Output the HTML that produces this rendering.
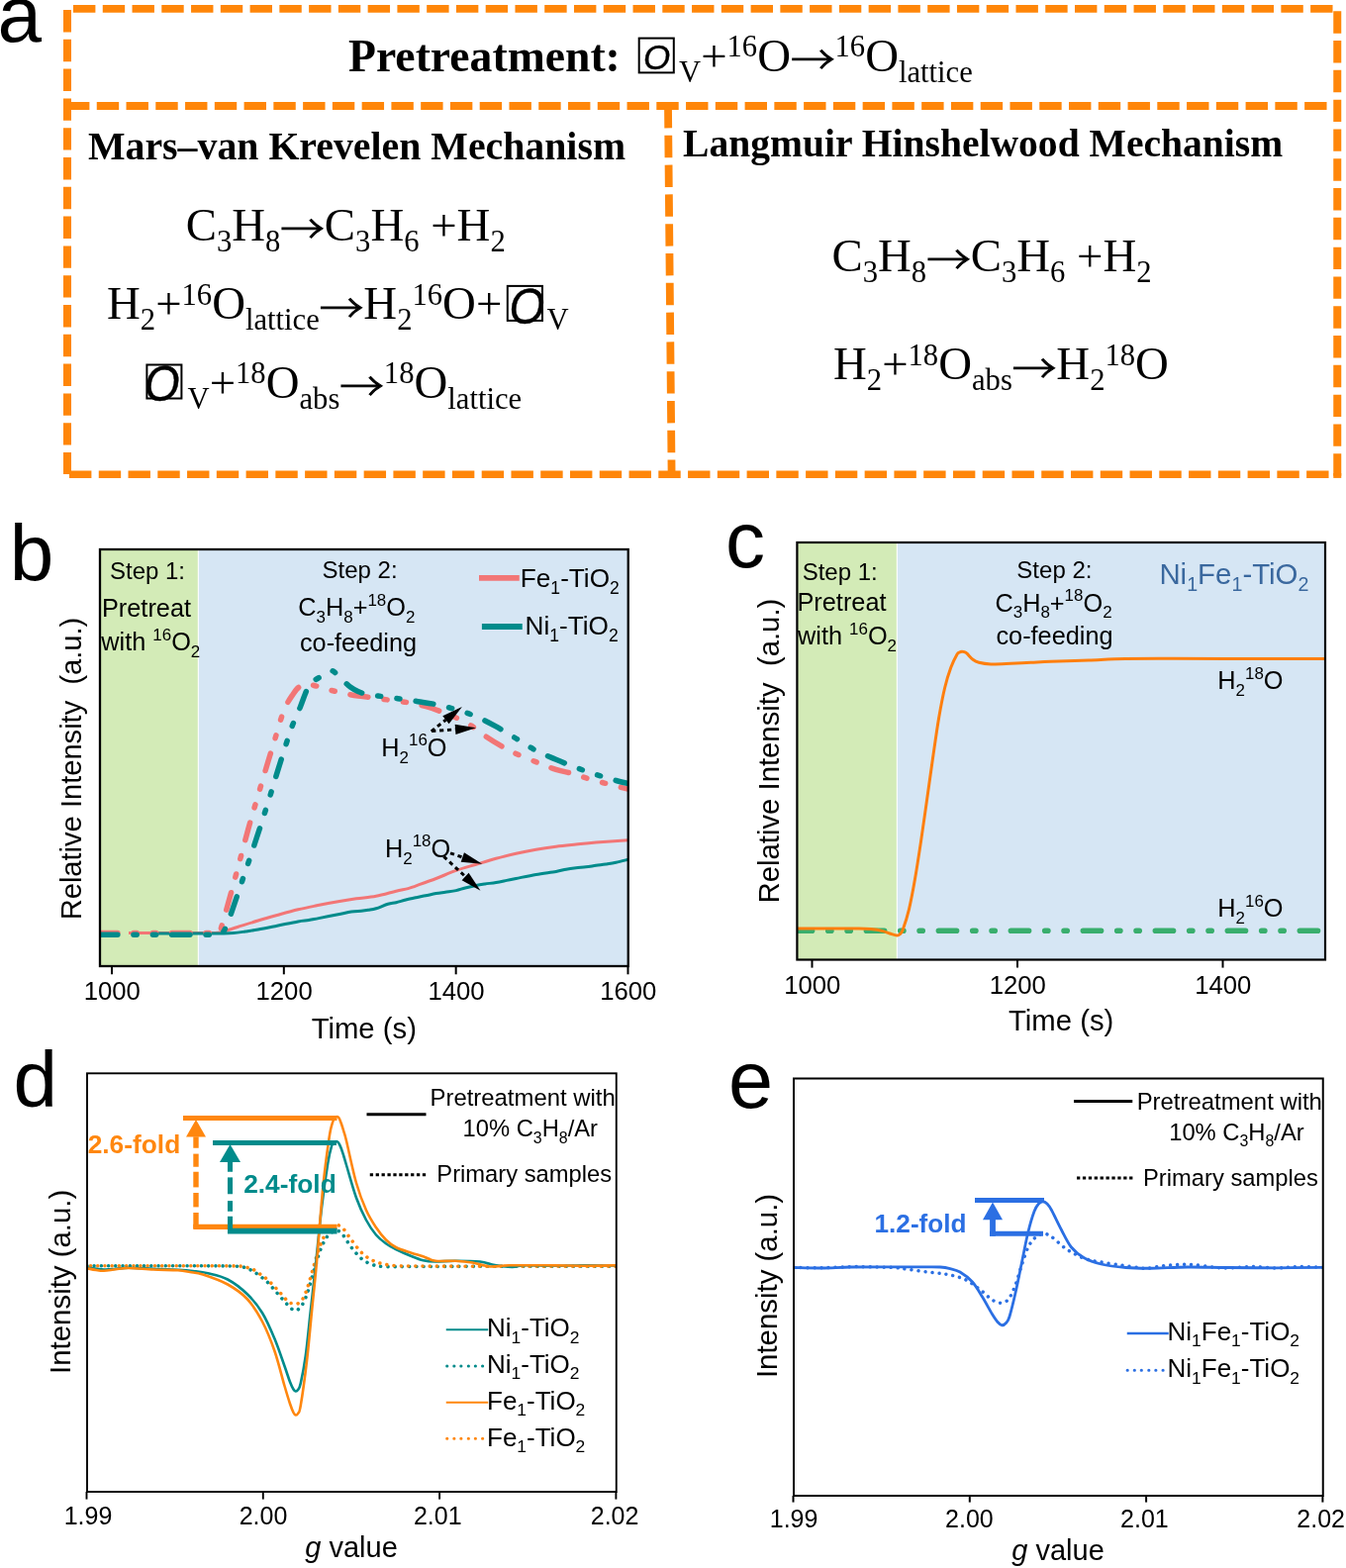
<!DOCTYPE html>
<html lang="en">
<head>
<meta charset="utf-8">
<title>Figure</title>
<style>
html,body{margin:0;padding:0;background:#fff;}
body{width:1360px;height:1584px;overflow:hidden;}
svg{display:block;}
</style>
</head>
<body>
<svg width="1360" height="1584" viewBox="0 0 1360 1584">
<rect x="0" y="0" width="1360" height="1584" fill="#ffffff"/>
<g id="panel-a">
<text x="-2.50" y="42.00" font-family='"Liberation Sans", Arial, Helvetica, sans-serif' font-size="80" fill="#000" text-anchor="start" xml:space="preserve" style="white-space:pre"><tspan>a</tspan></text>
<line x1="74" y1="8.9" x2="1347" y2="8.9" stroke="#FF8609" stroke-width="7.7" stroke-linecap="butt" stroke-dasharray="22.4 7.365"/>
<line x1="68" y1="10" x2="68" y2="479" stroke="#FF8609" stroke-width="8" stroke-linecap="butt" stroke-dasharray="22.4 7.4"/>
<line x1="1351.25" y1="11.25" x2="1351.25" y2="483" stroke="#FF8609" stroke-width="8" stroke-linecap="butt" stroke-dasharray="22.4 7.4"/>
<line x1="1351.25" y1="478" x2="1351.25" y2="482.9" stroke="#FF8609" stroke-width="8" stroke-linecap="butt"/>
<line x1="68" y1="106.9" x2="1347" y2="106.9" stroke="#FF8609" stroke-width="8" stroke-linecap="butt" stroke-dasharray="22.4 7.365"/>
<line x1="70" y1="479.2" x2="1347.5" y2="479.2" stroke="#FF8609" stroke-width="7.4" stroke-linecap="butt" stroke-dasharray="22.4 7.365"/>
<line x1="675" y1="107" x2="678.6" y2="479" stroke="#FF8609" stroke-width="7.8" stroke-linecap="butt" stroke-dasharray="22.4 7.4"/>
<text x="352.00" y="72.00" font-family='"Liberation Serif", "Times New Roman", Times, serif' font-size="45.7" fill="#000" text-anchor="start" font-weight="bold" xml:space="preserve" style="white-space:pre"><tspan>Pretreatment:</tspan></text>
<rect x="645.70" y="38.60" width="35.10" height="34.80" fill="none" stroke="#000" stroke-width="2"/>
<text transform="translate(650.00,70.00) scale(1,1)" font-family='"Liberation Sans", Arial, Helvetica, sans-serif' font-style="italic" font-size="35" fill="#000" stroke="#000" stroke-width="0.35">O</text>
<text x="686.00" y="72.00" font-family='"Liberation Serif", "Times New Roman", Times, serif' font-size="46.8" fill="#000" text-anchor="start" xml:space="preserve" style="white-space:pre"><tspan dy="11.00" font-size="30.65">V</tspan><tspan dy="-11.00">+</tspan><tspan dy="-14.60" font-size="30.65">16</tspan><tspan dy="14.60">O</tspan><tspan dy="2.30" font-family='"Noto Serif CJK SC", "Noto Sans CJK SC", serif' font-size="38" textLength="44.5" lengthAdjust="spacingAndGlyphs" stroke="#000" stroke-width="1">→</tspan><tspan dy="-16.90" font-size="30.65">16</tspan><tspan dy="14.60">O</tspan><tspan dy="11.00" font-size="30.65">lattice</tspan></text>
<text x="89.00" y="161.20" font-family='"Liberation Serif", "Times New Roman", Times, serif' font-size="39.8" fill="#000" text-anchor="start" font-weight="bold" xml:space="preserve" style="white-space:pre"><tspan>Mars–van Krevelen Mechanism</tspan></text>
<text x="187.70" y="242.50" font-family='"Liberation Serif", "Times New Roman", Times, serif' font-size="46.8" fill="#000" text-anchor="start" xml:space="preserve" style="white-space:pre"><tspan>C</tspan><tspan dy="11.00" font-size="30.65">3</tspan><tspan dy="-11.00">H</tspan><tspan dy="11.00" font-size="30.65">8</tspan><tspan dy="-8.70" font-family='"Noto Serif CJK SC", "Noto Sans CJK SC", serif' font-size="38" textLength="44.5" lengthAdjust="spacingAndGlyphs" stroke="#000" stroke-width="1">→</tspan><tspan dy="-2.30">C</tspan><tspan dy="11.00" font-size="30.65">3</tspan><tspan dy="-11.00">H</tspan><tspan dy="11.00" font-size="30.65">6</tspan><tspan dy="-11.00"> +H</tspan><tspan dy="11.00" font-size="30.65">2</tspan></text>
<text x="108.00" y="322.40" font-family='"Liberation Serif", "Times New Roman", Times, serif' font-size="46.8" fill="#000" text-anchor="start" xml:space="preserve" style="white-space:pre"><tspan>H</tspan><tspan dy="11.00" font-size="30.65">2</tspan><tspan dy="-11.00">+</tspan><tspan dy="-14.60" font-size="30.65">16</tspan><tspan dy="14.60">O</tspan><tspan dy="11.00" font-size="30.65">lattice</tspan><tspan dy="-8.70" font-family='"Noto Serif CJK SC", "Noto Sans CJK SC", serif' font-size="38" textLength="44.5" lengthAdjust="spacingAndGlyphs" stroke="#000" stroke-width="1">→</tspan><tspan dy="-2.30">H</tspan><tspan dy="11.00" font-size="30.65">2</tspan><tspan dy="-25.60" font-size="30.65">16</tspan><tspan dy="14.60">O+</tspan></text>
<rect x="512.80" y="288.90" width="35.20" height="35.00" fill="none" stroke="#000" stroke-width="2"/>
<text transform="translate(514.60,327.20) scale(0.98,1.07)" font-family='"Liberation Sans", Arial, Helvetica, sans-serif' font-style="italic" font-size="47" fill="#000" stroke="#000" stroke-width="0.35">O</text>
<text x="552.50" y="322.40" font-family='"Liberation Serif", "Times New Roman", Times, serif' font-size="46.8" fill="#000" text-anchor="start" xml:space="preserve" style="white-space:pre"><tspan dy="11.00" font-size="30.65">V</tspan></text>
<rect x="148.40" y="368.50" width="35.00" height="34.00" fill="none" stroke="#000" stroke-width="2"/>
<text transform="translate(145.75,404.50) scale(0.98,1.07)" font-family='"Liberation Sans", Arial, Helvetica, sans-serif' font-style="italic" font-size="47" fill="#000" stroke="#000" stroke-width="0.35">O</text>
<text x="189.50" y="401.80" font-family='"Liberation Serif", "Times New Roman", Times, serif' font-size="46.8" fill="#000" text-anchor="start" xml:space="preserve" style="white-space:pre"><tspan dy="11.00" font-size="30.65">V</tspan><tspan dy="-11.00">+</tspan><tspan dy="-14.60" font-size="30.65">18</tspan><tspan dy="14.60">O</tspan><tspan dy="11.00" font-size="30.65">abs</tspan><tspan dy="-8.70" font-family='"Noto Serif CJK SC", "Noto Sans CJK SC", serif' font-size="38" textLength="44.5" lengthAdjust="spacingAndGlyphs" stroke="#000" stroke-width="1">→</tspan><tspan dy="-16.90" font-size="30.65">18</tspan><tspan dy="14.60">O</tspan><tspan dy="11.00" font-size="30.65">lattice</tspan></text>
<text x="690.00" y="158.00" font-family='"Liberation Serif", "Times New Roman", Times, serif' font-size="39.6" fill="#000" text-anchor="start" font-weight="bold" xml:space="preserve" style="white-space:pre"><tspan>Langmuir Hinshelwood Mechanism</tspan></text>
<text x="840.50" y="273.70" font-family='"Liberation Serif", "Times New Roman", Times, serif' font-size="46.8" fill="#000" text-anchor="start" xml:space="preserve" style="white-space:pre"><tspan>C</tspan><tspan dy="11.00" font-size="30.65">3</tspan><tspan dy="-11.00">H</tspan><tspan dy="11.00" font-size="30.65">8</tspan><tspan dy="-8.70" font-family='"Noto Serif CJK SC", "Noto Sans CJK SC", serif' font-size="38" textLength="44.5" lengthAdjust="spacingAndGlyphs" stroke="#000" stroke-width="1">→</tspan><tspan dy="-2.30">C</tspan><tspan dy="11.00" font-size="30.65">3</tspan><tspan dy="-11.00">H</tspan><tspan dy="11.00" font-size="30.65">6</tspan><tspan dy="-11.00"> +H</tspan><tspan dy="11.00" font-size="30.65">2</tspan></text>
<text x="842.00" y="383.40" font-family='"Liberation Serif", "Times New Roman", Times, serif' font-size="46.8" fill="#000" text-anchor="start" xml:space="preserve" style="white-space:pre"><tspan>H</tspan><tspan dy="11.00" font-size="30.65">2</tspan><tspan dy="-11.00">+</tspan><tspan dy="-14.60" font-size="30.65">18</tspan><tspan dy="14.60">O</tspan><tspan dy="11.00" font-size="30.65">abs</tspan><tspan dy="-8.70" font-family='"Noto Serif CJK SC", "Noto Sans CJK SC", serif' font-size="38" textLength="44.5" lengthAdjust="spacingAndGlyphs" stroke="#000" stroke-width="1">→</tspan><tspan dy="-2.30">H</tspan><tspan dy="11.00" font-size="30.65">2</tspan><tspan dy="-25.60" font-size="30.65">18</tspan><tspan dy="14.60">O</tspan></text>
</g>
<g id="panel-b">
<text x="9.80" y="586.20" font-family='"Liberation Sans", Arial, Helvetica, sans-serif' font-size="80" fill="#000" text-anchor="start" xml:space="preserve" style="white-space:pre"><tspan>b</tspan></text>
<rect x="101" y="555" width="99" height="421" fill="#D3EBB7"/>
<rect x="200.6" y="555" width="434.15" height="421" fill="#D6E6F4"/>
<rect x="199.8" y="555" width="0.9" height="421" fill="#ffffff"/>
<clipPath id="clipb"><rect x="101" y="555" width="533.75" height="421"/></clipPath>
<g clip-path="url(#clipb)">
<path d="M130.00,942.50 C138.33,942.50 165.83,942.50 180.00,942.50 C194.17,942.50 207.67,942.67 215.00,942.50 C222.33,942.33 219.83,942.50 224.00,941.50 C228.17,940.50 233.87,938.42 240.00,936.50 C246.13,934.58 254.13,932.00 260.80,930.00 C267.47,928.00 273.27,926.37 280.00,924.50 C286.73,922.63 294.53,920.42 301.20,918.80 C307.87,917.18 313.27,916.15 320.00,914.80 C326.73,913.45 334.93,911.87 341.60,910.70 C348.27,909.53 353.60,908.70 360.00,907.80 C366.40,906.90 373.30,906.57 380.00,905.30 C386.70,904.03 394.82,901.48 400.20,900.20 C405.58,898.92 408.93,898.50 412.30,897.60 C415.67,896.70 415.68,896.48 420.40,894.80 C425.12,893.12 433.87,890.07 440.60,887.50 C447.33,884.93 454.07,881.77 460.80,879.40 C467.53,877.03 474.27,875.32 481.00,873.30 C487.73,871.28 494.47,869.15 501.20,867.30 C507.93,865.45 514.67,863.72 521.40,862.20 C528.13,860.68 534.87,859.37 541.60,858.20 C548.33,857.03 555.07,856.07 561.80,855.20 C568.53,854.33 575.27,853.70 582.00,853.00 C588.73,852.30 593.41,851.72 602.20,851.00 C610.99,850.28 629.33,849.08 634.75,848.70" fill="none" stroke="#F27676" stroke-width="3" stroke-linecap="butt" stroke-linejoin="round"/>
<path d="M155.00,943.00 C162.50,943.00 188.33,943.00 200.00,943.00 C211.67,943.00 219.00,943.07 225.00,943.00 C231.00,942.93 232.17,942.93 236.00,942.60 C239.83,942.27 243.87,941.60 248.00,941.00 C252.13,940.40 255.47,939.97 260.80,939.00 C266.13,938.03 273.27,936.55 280.00,935.20 C286.73,933.85 295.87,931.83 301.20,930.90 C306.53,929.97 308.53,930.15 312.00,929.60 C315.47,929.05 317.07,928.57 322.00,927.60 C326.93,926.63 336.10,924.90 341.60,923.80 C347.10,922.70 351.10,921.60 355.00,921.00 C358.90,920.40 362.17,920.48 365.00,920.20 C367.83,919.92 369.50,919.70 372.00,919.30 C374.50,918.90 376.67,918.82 380.00,917.80 C383.33,916.78 388.63,914.22 392.00,913.20 C395.37,912.18 397.20,912.40 400.20,911.70 C403.20,911.00 406.63,909.83 410.00,909.00 C413.37,908.17 417.07,907.40 420.40,906.70 C423.73,906.00 426.63,905.48 430.00,904.80 C433.37,904.12 437.27,903.20 440.60,902.60 C443.93,902.00 446.63,901.70 450.00,901.20 C453.37,900.70 457.47,900.30 460.80,899.60 C464.13,898.90 466.63,897.85 470.00,897.00 C473.37,896.15 477.67,895.17 481.00,894.50 C484.33,893.83 486.63,893.50 490.00,893.00 C493.37,892.50 497.53,892.10 501.20,891.50 C504.87,890.90 508.63,890.07 512.00,889.40 C515.37,888.73 516.47,888.50 521.40,887.50 C526.33,886.50 534.87,884.58 541.60,883.40 C548.33,882.22 556.73,881.27 561.80,880.40 C566.87,879.53 568.63,878.80 572.00,878.20 C575.37,877.60 578.67,877.20 582.00,876.80 C585.33,876.40 588.63,876.22 592.00,875.80 C595.37,875.38 598.87,874.77 602.20,874.30 C605.53,873.83 608.63,873.50 612.00,873.00 C615.37,872.50 618.61,872.08 622.40,871.30 C626.19,870.52 632.69,868.80 634.75,868.30" fill="none" stroke="#008B8B" stroke-width="3" stroke-linecap="butt" stroke-linejoin="round"/>
<path d="M101.00,942.50 C110.83,942.50 141.00,942.50 160.00,942.50 C179.00,942.50 204.77,942.58 215.00,942.50 C225.23,942.42 219.73,943.75 221.40,942.00 C223.07,940.25 223.48,936.88 225.00,932.00 C226.52,927.12 228.00,921.70 230.50,912.70 C233.00,903.70 236.63,890.45 240.00,878.00 C243.37,865.55 247.37,850.00 250.70,838.00 C254.03,826.00 256.63,817.45 260.00,806.00 C263.37,794.55 267.90,779.30 270.90,769.30 C273.90,759.30 275.65,753.75 278.00,746.00 C280.35,738.25 283.00,728.63 285.00,722.80 C287.00,716.97 288.30,714.37 290.00,711.00 C291.70,707.63 293.53,705.10 295.20,702.60 C296.87,700.10 298.32,697.75 300.00,696.00 C301.68,694.25 303.80,692.93 305.30,692.10 C306.80,691.27 307.72,691.12 309.00,691.00 C310.28,690.88 310.93,690.98 313.00,691.40 C315.07,691.82 318.57,692.70 321.40,693.50 C324.23,694.30 326.97,695.35 330.00,696.20 C333.03,697.05 336.27,697.80 339.60,698.60 C342.93,699.40 346.30,700.27 350.00,701.00 C353.70,701.73 357.63,702.40 361.80,703.00 C365.97,703.60 369.97,703.93 375.00,704.60 C380.03,705.27 385.78,706.15 392.00,707.00 C398.22,707.85 405.88,708.58 412.30,709.70 C418.72,710.82 424.10,711.85 430.50,713.70 C436.90,715.55 444.98,718.60 450.70,720.80 C456.42,723.00 460.08,724.53 464.80,726.90 C469.52,729.27 474.63,732.15 479.00,735.00 C483.37,737.85 485.95,740.63 491.00,744.00 C496.05,747.37 503.55,752.00 509.30,755.20 C515.05,758.40 519.43,760.52 525.50,763.20 C531.57,765.88 539.65,768.93 545.70,771.30 C551.75,773.67 556.42,775.72 561.80,777.40 C567.18,779.08 572.63,779.88 578.00,781.40 C583.37,782.92 587.95,784.73 594.00,786.50 C600.05,788.27 607.51,790.22 614.30,792.00 C621.09,793.78 631.34,796.33 634.75,797.20" fill="none" stroke="#F27676" stroke-width="5.5" stroke-linecap="round" stroke-linejoin="round" stroke-dasharray="18.2 16.13 3.2 16.13 3.2 16.13" stroke-dashoffset="0.35"/>
<path d="M101.00,944.20 C110.83,944.20 141.00,944.20 160.00,944.20 C179.00,944.20 204.43,944.30 215.00,944.20 C225.57,944.10 221.23,944.80 223.40,943.60 C225.57,942.40 226.32,940.47 228.00,937.00 C229.68,933.53 230.67,930.80 233.50,922.80 C236.33,914.80 241.12,900.47 245.00,889.00 C248.88,877.53 253.47,864.00 256.80,854.00 C260.13,844.00 262.30,837.40 265.00,829.00 C267.70,820.60 270.33,812.20 273.00,803.60 C275.67,795.00 278.33,786.00 281.00,777.40 C283.67,768.80 286.67,759.23 289.00,752.00 C291.33,744.77 292.63,740.22 295.00,734.00 C297.37,727.78 300.82,720.60 303.20,714.70 C305.58,708.80 307.67,702.38 309.30,698.60 C310.93,694.82 311.65,693.85 313.00,692.00 C314.35,690.15 315.40,689.00 317.40,687.50 C319.40,686.00 322.73,684.42 325.00,683.00 C327.27,681.58 329.42,679.93 331.00,679.00 C332.58,678.07 333.33,677.40 334.50,677.40 C335.67,677.40 336.75,678.07 338.00,679.00 C339.25,679.93 340.38,681.42 342.00,683.00 C343.62,684.58 345.70,686.67 347.70,688.50 C349.70,690.33 351.65,692.32 354.00,694.00 C356.35,695.68 358.97,697.37 361.80,698.60 C364.63,699.83 367.63,700.67 371.00,701.40 C374.37,702.13 376.83,702.28 382.00,703.00 C387.17,703.72 395.27,704.75 402.00,705.70 C408.73,706.65 415.97,707.70 422.40,708.70 C428.83,709.70 434.20,710.35 440.60,711.70 C447.00,713.05 454.07,714.78 460.80,716.80 C467.53,718.82 474.27,720.95 481.00,723.80 C487.73,726.65 494.47,730.20 501.20,733.90 C507.93,737.60 514.67,741.95 521.40,746.00 C528.13,750.05 534.87,754.65 541.60,758.20 C548.33,761.75 555.07,764.43 561.80,767.30 C568.53,770.17 575.27,772.88 582.00,775.40 C588.73,777.92 595.47,780.22 602.20,782.40 C608.93,784.58 616.98,786.98 622.40,788.50 C627.82,790.02 632.69,791.00 634.75,791.50" fill="none" stroke="#008B8B" stroke-width="5.5" stroke-linecap="round" stroke-linejoin="round" stroke-dasharray="18.2 16.13 3.2 16.13 3.2 16.13" stroke-dashoffset="0.35"/>
</g>
<rect x="101" y="555" width="533.75" height="421" fill="none" stroke="#000" stroke-width="2.3"/>
<line x1="113.00" y1="976" x2="113.00" y2="984.3" stroke="#000" stroke-width="2" stroke-linecap="butt"/>
<text x="113.30" y="1009.70" font-family='"Liberation Sans", Arial, Helvetica, sans-serif' font-size="25.7" fill="#000" text-anchor="middle" xml:space="preserve" style="white-space:pre"><tspan>1000</tspan></text>
<line x1="286.83" y1="976" x2="286.83" y2="984.3" stroke="#000" stroke-width="2" stroke-linecap="butt"/>
<text x="287.13" y="1009.70" font-family='"Liberation Sans", Arial, Helvetica, sans-serif' font-size="25.7" fill="#000" text-anchor="middle" xml:space="preserve" style="white-space:pre"><tspan>1200</tspan></text>
<line x1="460.67" y1="976" x2="460.67" y2="984.3" stroke="#000" stroke-width="2" stroke-linecap="butt"/>
<text x="460.97" y="1009.70" font-family='"Liberation Sans", Arial, Helvetica, sans-serif' font-size="25.7" fill="#000" text-anchor="middle" xml:space="preserve" style="white-space:pre"><tspan>1400</tspan></text>
<line x1="634.50" y1="976" x2="634.50" y2="984.3" stroke="#000" stroke-width="2" stroke-linecap="butt"/>
<text x="634.80" y="1009.70" font-family='"Liberation Sans", Arial, Helvetica, sans-serif' font-size="25.7" fill="#000" text-anchor="middle" xml:space="preserve" style="white-space:pre"><tspan>1600</tspan></text>
<text x="367.80" y="1048.50" font-family='"Liberation Sans", Arial, Helvetica, sans-serif' font-size="29.3" fill="#000" text-anchor="middle" xml:space="preserve" style="white-space:pre"><tspan>Time (s)</tspan></text>
<text x="0.00" y="0.00" font-family='"Liberation Sans", Arial, Helvetica, sans-serif' font-size="29.1" fill="#000" text-anchor="middle" xml:space="preserve" style="white-space:pre" transform="translate(82.4,776.5) rotate(-90)"><tspan>Relative Intensity  (a.u.)</tspan></text>
<text x="149.00" y="584.80" font-family='"Liberation Sans", Arial, Helvetica, sans-serif' font-size="24" fill="#000" text-anchor="middle" xml:space="preserve" style="white-space:pre"><tspan>Step 1:</tspan></text>
<text x="148.00" y="623.00" font-family='"Liberation Sans", Arial, Helvetica, sans-serif' font-size="25.3" fill="#000" text-anchor="middle" xml:space="preserve" style="white-space:pre"><tspan>Pretreat</tspan></text>
<text x="152.30" y="657.00" font-family='"Liberation Sans", Arial, Helvetica, sans-serif' font-size="25.3" fill="#000" text-anchor="middle" xml:space="preserve" style="white-space:pre"><tspan>with </tspan><tspan dy="-10.30" font-size="16.95">16</tspan><tspan dy="10.30">O</tspan><tspan dy="6.90" font-size="16.95">2</tspan></text>
<text x="363.60" y="583.60" font-family='"Liberation Sans", Arial, Helvetica, sans-serif' font-size="24" fill="#000" text-anchor="middle" xml:space="preserve" style="white-space:pre"><tspan>Step 2:</tspan></text>
<text x="360.30" y="622.20" font-family='"Liberation Sans", Arial, Helvetica, sans-serif' font-size="25.3" fill="#000" text-anchor="middle" xml:space="preserve" style="white-space:pre"><tspan>C</tspan><tspan dy="6.90" font-size="16.95">3</tspan><tspan dy="-6.90">H</tspan><tspan dy="6.90" font-size="16.95">8</tspan><tspan dy="-6.90">+</tspan><tspan dy="-10.30" font-size="16.95">18</tspan><tspan dy="10.30">O</tspan><tspan dy="6.90" font-size="16.95">2</tspan></text>
<text x="362.00" y="658.00" font-family='"Liberation Sans", Arial, Helvetica, sans-serif' font-size="25.3" fill="#000" text-anchor="middle" xml:space="preserve" style="white-space:pre"><tspan>co-feeding</tspan></text>
<line x1="484" y1="583.9" x2="524.75" y2="583.9" stroke="#F27676" stroke-width="5.9" stroke-linecap="butt"/>
<line x1="486.9" y1="633" x2="527.75" y2="633" stroke="#008B8B" stroke-width="5.9" stroke-linecap="butt"/>
<text x="525.80" y="593.10" font-family='"Liberation Sans", Arial, Helvetica, sans-serif' font-size="26.2" fill="#000" text-anchor="start" xml:space="preserve" style="white-space:pre"><tspan>Fe</tspan><tspan dy="6.90" font-size="17.55">1</tspan><tspan dy="-6.90">-TiO</tspan><tspan dy="6.90" font-size="17.55">2</tspan></text>
<text x="530.50" y="641.20" font-family='"Liberation Sans", Arial, Helvetica, sans-serif' font-size="26.2" fill="#000" text-anchor="start" xml:space="preserve" style="white-space:pre"><tspan>Ni</tspan><tspan dy="6.90" font-size="17.55">1</tspan><tspan dy="-6.90">-TiO</tspan><tspan dy="6.90" font-size="17.55">2</tspan></text>
<text x="385.30" y="763.70" font-family='"Liberation Sans", Arial, Helvetica, sans-serif' font-size="25.3" fill="#000" text-anchor="start" xml:space="preserve" style="white-space:pre"><tspan>H</tspan><tspan dy="6.90" font-size="16.95">2</tspan><tspan dy="-17.20" font-size="16.95">16</tspan><tspan dy="10.30">O</tspan></text>
<text x="389.00" y="865.70" font-family='"Liberation Sans", Arial, Helvetica, sans-serif' font-size="25.3" fill="#000" text-anchor="start" xml:space="preserve" style="white-space:pre"><tspan>H</tspan><tspan dy="6.90" font-size="16.95">2</tspan><tspan dy="-17.20" font-size="16.95">18</tspan><tspan dy="10.30">O</tspan></text>
<polygon points="466.90,714.10 453.63,731.15 447.28,723.17" fill="#000"/>
<line x1="435.8" y1="738.8" x2="450.46" y2="727.16" stroke="#000" stroke-width="3" stroke-linecap="butt" stroke-dasharray="4.2 3.7"/>
<polygon points="481.00,735.30 460.43,741.93 459.68,731.76" fill="#000"/>
<line x1="436.2" y1="738.6" x2="460.06" y2="736.84" stroke="#000" stroke-width="3" stroke-linecap="butt" stroke-dasharray="4.2 3.7"/>
<polygon points="487.20,872.80 465.68,870.84 468.98,861.19" fill="#000"/>
<line x1="455" y1="861.8" x2="467.33" y2="866.01" stroke="#000" stroke-width="3" stroke-linecap="butt" stroke-dasharray="4.2 3.7"/>
<polygon points="485.50,899.70 466.63,889.16 473.57,881.68" fill="#000"/>
<line x1="448.4" y1="865.3" x2="470.10" y2="885.42" stroke="#000" stroke-width="3" stroke-linecap="butt" stroke-dasharray="4.2 3.7"/>
</g>
<g id="panel-c">
<text x="733.00" y="572.60" font-family='"Liberation Sans", Arial, Helvetica, sans-serif' font-size="80" fill="#000" text-anchor="start" xml:space="preserve" style="white-space:pre"><tspan>c</tspan></text>
<rect x="805.4" y="548" width="100.60000000000002" height="421.5" fill="#D3EBB7"/>
<rect x="906.6" y="548" width="432.4" height="421.5" fill="#D6E6F4"/>
<rect x="905.8" y="548" width="0.9" height="421.5" fill="#ffffff"/>
<clipPath id="clipc"><rect x="805.4" y="548" width="533.6" height="421.5"/></clipPath>
<g clip-path="url(#clipc)">
<line x1="805.4" y1="940.3" x2="1339" y2="940.3" stroke="#39AE6D" stroke-width="5.6" stroke-linecap="round" stroke-dasharray="18.2 16.13 3.2 16.13 3.2 16.13" stroke-dashoffset="3.0"/>
<path d="M805.40,938.00 C811.17,938.00 829.57,938.00 840.00,938.00 C850.43,938.00 861.33,937.90 868.00,938.00 C874.67,938.10 875.98,938.17 880.00,938.60 C884.02,939.03 888.93,939.87 892.10,940.60 C895.27,941.33 896.63,942.25 899.00,943.00 C901.37,943.75 904.55,945.02 906.30,945.10 C908.05,945.18 908.50,944.52 909.50,943.50 C910.50,942.48 910.82,943.12 912.30,939.00 C913.78,934.88 916.38,927.22 918.40,918.80 C920.42,910.38 922.38,899.95 924.40,888.50 C926.42,877.05 928.47,863.57 930.50,850.10 C932.53,836.63 934.58,821.83 936.60,807.70 C938.62,793.57 940.58,779.12 942.60,765.30 C944.62,751.48 946.68,736.60 948.70,724.80 C950.72,713.00 952.68,702.92 954.70,694.50 C956.72,686.08 958.77,679.85 960.80,674.30 C962.83,668.75 965.45,663.75 966.90,661.20 C968.35,658.65 968.67,659.50 969.50,659.00 C970.33,658.50 971.07,658.25 971.90,658.20 C972.73,658.15 973.65,658.37 974.50,658.70 C975.35,659.03 975.58,658.93 977.00,660.20 C978.42,661.47 980.98,664.78 983.00,666.30 C985.02,667.82 986.07,668.53 989.10,669.30 C992.13,670.07 995.82,670.73 1001.20,670.90 C1006.58,671.07 1014.67,670.57 1021.40,670.30 C1028.13,670.03 1034.87,669.63 1041.60,669.30 C1048.33,668.97 1052.07,668.70 1061.80,668.30 C1071.53,667.90 1087.47,667.37 1100.00,666.90 C1112.53,666.43 1122.83,665.77 1137.00,665.50 C1151.17,665.23 1164.50,665.30 1185.00,665.30 C1205.50,665.30 1234.33,665.47 1260.00,665.50 C1285.67,665.53 1325.83,665.50 1339.00,665.50" fill="none" stroke="#FF7F0E" stroke-width="3" stroke-linecap="butt" stroke-linejoin="round"/>
</g>
<rect x="805.4" y="548" width="533.6" height="421.5" fill="none" stroke="#000" stroke-width="2.2"/>
<line x1="820.50" y1="969.5" x2="820.50" y2="977.6" stroke="#000" stroke-width="2" stroke-linecap="butt"/>
<text x="820.80" y="1003.60" font-family='"Liberation Sans", Arial, Helvetica, sans-serif' font-size="25.7" fill="#000" text-anchor="middle" xml:space="preserve" style="white-space:pre"><tspan>1000</tspan></text>
<line x1="1028.00" y1="969.5" x2="1028.00" y2="977.6" stroke="#000" stroke-width="2" stroke-linecap="butt"/>
<text x="1028.30" y="1003.60" font-family='"Liberation Sans", Arial, Helvetica, sans-serif' font-size="25.7" fill="#000" text-anchor="middle" xml:space="preserve" style="white-space:pre"><tspan>1200</tspan></text>
<line x1="1235.50" y1="969.5" x2="1235.50" y2="977.6" stroke="#000" stroke-width="2" stroke-linecap="butt"/>
<text x="1235.80" y="1003.60" font-family='"Liberation Sans", Arial, Helvetica, sans-serif' font-size="25.7" fill="#000" text-anchor="middle" xml:space="preserve" style="white-space:pre"><tspan>1400</tspan></text>
<text x="1072.20" y="1040.50" font-family='"Liberation Sans", Arial, Helvetica, sans-serif' font-size="29.3" fill="#000" text-anchor="middle" xml:space="preserve" style="white-space:pre"><tspan>Time (s)</tspan></text>
<text x="0.00" y="0.00" font-family='"Liberation Sans", Arial, Helvetica, sans-serif' font-size="29.3" fill="#000" text-anchor="middle" xml:space="preserve" style="white-space:pre" transform="translate(787.2,758.6) rotate(-90)"><tspan>Relative Intensity  (a.u.)</tspan></text>
<text x="848.70" y="586.20" font-family='"Liberation Sans", Arial, Helvetica, sans-serif' font-size="24" fill="#000" text-anchor="middle" xml:space="preserve" style="white-space:pre"><tspan>Step 1:</tspan></text>
<text x="850.50" y="617.00" font-family='"Liberation Sans", Arial, Helvetica, sans-serif' font-size="25.3" fill="#000" text-anchor="middle" xml:space="preserve" style="white-space:pre"><tspan>Pretreat</tspan></text>
<text x="856.00" y="651.20" font-family='"Liberation Sans", Arial, Helvetica, sans-serif' font-size="25.3" fill="#000" text-anchor="middle" xml:space="preserve" style="white-space:pre"><tspan>with </tspan><tspan dy="-10.30" font-size="16.95">16</tspan><tspan dy="10.30">O</tspan><tspan dy="6.90" font-size="16.95">2</tspan></text>
<text x="1065.40" y="583.70" font-family='"Liberation Sans", Arial, Helvetica, sans-serif' font-size="24" fill="#000" text-anchor="middle" xml:space="preserve" style="white-space:pre"><tspan>Step 2:</tspan></text>
<text x="1064.50" y="617.50" font-family='"Liberation Sans", Arial, Helvetica, sans-serif' font-size="25.3" fill="#000" text-anchor="middle" xml:space="preserve" style="white-space:pre"><tspan>C</tspan><tspan dy="6.90" font-size="16.95">3</tspan><tspan dy="-6.90">H</tspan><tspan dy="6.90" font-size="16.95">8</tspan><tspan dy="-6.90">+</tspan><tspan dy="-10.30" font-size="16.95">18</tspan><tspan dy="10.30">O</tspan><tspan dy="6.90" font-size="16.95">2</tspan></text>
<text x="1065.50" y="651.20" font-family='"Liberation Sans", Arial, Helvetica, sans-serif' font-size="25.3" fill="#000" text-anchor="middle" xml:space="preserve" style="white-space:pre"><tspan>co-feeding</tspan></text>
<text x="1171.40" y="589.70" font-family='"Liberation Sans", Arial, Helvetica, sans-serif' font-size="29.4" fill="#3A689E" text-anchor="start" xml:space="preserve" style="white-space:pre"><tspan>Ni</tspan><tspan dy="6.90" font-size="19.70">1</tspan><tspan dy="-6.90">Fe</tspan><tspan dy="6.90" font-size="19.70">1</tspan><tspan dy="-6.90">-TiO</tspan><tspan dy="6.90" font-size="19.70">2</tspan></text>
<text x="1230.30" y="696.20" font-family='"Liberation Sans", Arial, Helvetica, sans-serif' font-size="25.3" fill="#000" text-anchor="start" xml:space="preserve" style="white-space:pre"><tspan>H</tspan><tspan dy="6.90" font-size="16.95">2</tspan><tspan dy="-17.20" font-size="16.95">18</tspan><tspan dy="10.30">O</tspan></text>
<text x="1230.30" y="926.20" font-family='"Liberation Sans", Arial, Helvetica, sans-serif' font-size="25.3" fill="#000" text-anchor="start" xml:space="preserve" style="white-space:pre"><tspan>H</tspan><tspan dy="6.90" font-size="16.95">2</tspan><tspan dy="-17.20" font-size="16.95">16</tspan><tspan dy="10.30">O</tspan></text>
</g>
<g id="panel-d">
<text x="13.60" y="1118.00" font-family='"Liberation Sans", Arial, Helvetica, sans-serif' font-size="80" fill="#000" text-anchor="start" xml:space="preserve" style="white-space:pre"><tspan>d</tspan></text>
<clipPath id="clipd"><rect x="88" y="1084.3" width="534.75" height="422.70000000000005"/></clipPath>
<g clip-path="url(#clipd)">
<path d="M88.00,1278.80 C96.67,1278.80 121.33,1278.80 140.00,1278.80 C158.67,1278.80 183.33,1278.73 200.00,1278.80 C216.67,1278.87 232.00,1278.83 240.00,1279.20 C248.00,1279.57 245.50,1280.24 248.00,1281.00 C250.50,1281.76 252.67,1282.50 255.00,1283.75 C257.33,1285.00 259.50,1286.62 262.00,1288.50 C264.50,1290.38 267.00,1292.04 270.00,1295.00 C273.00,1297.96 276.67,1302.50 280.00,1306.25 C283.33,1310.00 287.67,1314.94 290.00,1317.50 C292.33,1320.06 292.75,1320.56 294.00,1321.60 C295.25,1322.64 296.33,1323.52 297.50,1323.75 C298.67,1323.98 299.75,1323.83 301.00,1323.00 C302.25,1322.17 303.67,1320.83 305.00,1318.75 C306.33,1316.67 307.75,1313.62 309.00,1310.50 C310.25,1307.38 311.08,1304.67 312.50,1300.00 C313.92,1295.33 315.62,1288.75 317.50,1282.50 C319.38,1276.25 321.67,1267.92 323.75,1262.50 C325.83,1257.08 328.12,1252.92 330.00,1250.00 C331.88,1247.08 333.33,1246.17 335.00,1245.00 C336.67,1243.83 338.50,1243.03 340.00,1243.00 C341.50,1242.97 342.75,1243.84 344.00,1244.80 C345.25,1245.76 345.67,1246.22 347.50,1248.75 C349.33,1251.28 352.08,1256.25 355.00,1260.00 C357.92,1263.75 361.67,1268.42 365.00,1271.25 C368.33,1274.08 371.25,1275.62 375.00,1277.00 C378.75,1278.38 380.00,1279.08 387.50,1279.50 C395.00,1279.92 401.25,1279.53 420.00,1279.50 C438.75,1279.47 466.21,1279.33 500.00,1279.30 C533.79,1279.27 602.29,1279.30 622.75,1279.30" fill="none" stroke="#008B8B" stroke-width="3.6" stroke-linecap="round" stroke-linejoin="round" stroke-dasharray="0.01 7.2"/>
<path d="M88.00,1278.80 C96.67,1278.80 121.33,1278.80 140.00,1278.80 C158.67,1278.80 183.33,1278.77 200.00,1278.80 C216.67,1278.83 232.00,1278.77 240.00,1279.00 C248.00,1279.23 245.50,1279.70 248.00,1280.20 C250.50,1280.70 252.67,1280.95 255.00,1282.00 C257.33,1283.05 259.50,1284.75 262.00,1286.50 C264.50,1288.25 267.00,1289.83 270.00,1292.50 C273.00,1295.17 276.67,1298.96 280.00,1302.50 C283.33,1306.04 287.67,1311.42 290.00,1313.75 C292.33,1316.08 292.75,1315.88 294.00,1316.50 C295.25,1317.12 296.33,1317.45 297.50,1317.50 C298.67,1317.55 299.75,1317.42 301.00,1316.80 C302.25,1316.17 303.67,1315.63 305.00,1313.75 C306.33,1311.87 307.75,1308.62 309.00,1305.50 C310.25,1302.38 311.08,1299.67 312.50,1295.00 C313.92,1290.33 315.62,1283.75 317.50,1277.50 C319.38,1271.25 321.67,1262.92 323.75,1257.50 C325.83,1252.08 328.12,1247.98 330.00,1245.00 C331.88,1242.02 333.33,1240.85 335.00,1239.60 C336.67,1238.35 338.50,1237.63 340.00,1237.50 C341.50,1237.37 342.75,1238.05 344.00,1238.80 C345.25,1239.55 345.67,1239.72 347.50,1242.00 C349.33,1244.28 352.08,1248.67 355.00,1252.50 C357.92,1256.33 361.67,1261.67 365.00,1265.00 C368.33,1268.33 371.25,1270.50 375.00,1272.50 C378.75,1274.50 382.92,1275.96 387.50,1277.00 C392.08,1278.04 397.08,1278.42 402.50,1278.75 C407.92,1279.08 403.75,1278.91 420.00,1279.00 C436.25,1279.09 466.21,1279.25 500.00,1279.30 C533.79,1279.35 602.29,1279.30 622.75,1279.30" fill="none" stroke="#FF870F" stroke-width="3.6" stroke-linecap="round" stroke-linejoin="round" stroke-dasharray="0.01 7.2" stroke-dashoffset="3.6"/>
<path d="M88.00,1280.50 C90.83,1280.83 100.17,1282.28 105.00,1282.50 C109.83,1282.72 112.83,1282.08 117.00,1281.80 C121.17,1281.52 123.67,1280.80 130.00,1280.80 C136.33,1280.80 146.67,1281.47 155.00,1281.80 C163.33,1282.13 173.33,1282.43 180.00,1282.80 C186.67,1283.17 190.00,1283.42 195.00,1284.00 C200.00,1284.58 204.17,1284.83 210.00,1286.25 C215.83,1287.67 223.33,1288.96 230.00,1292.50 C236.67,1296.04 244.17,1301.88 250.00,1307.50 C255.83,1313.12 260.42,1318.75 265.00,1326.25 C269.58,1333.75 273.75,1343.54 277.50,1352.50 C281.25,1361.46 284.92,1372.75 287.50,1380.00 C290.08,1387.25 291.50,1392.08 293.00,1396.00 C294.50,1399.92 295.54,1401.92 296.50,1403.50 C297.46,1405.08 298.00,1405.42 298.75,1405.50 C299.50,1405.58 300.17,1405.33 301.00,1404.00 C301.83,1402.67 302.46,1403.17 303.75,1397.50 C305.04,1391.83 307.08,1382.08 308.75,1370.00 C310.42,1357.92 312.08,1340.00 313.75,1325.00 C315.42,1310.00 316.88,1297.50 318.75,1280.00 C320.62,1262.50 322.92,1237.50 325.00,1220.00 C327.08,1202.50 329.58,1185.33 331.25,1175.00 C332.92,1164.67 333.96,1161.47 335.00,1158.00 C336.04,1154.53 336.72,1155.03 337.50,1154.20 C338.28,1153.37 338.97,1152.98 339.70,1153.00 C340.43,1153.02 341.10,1153.22 341.90,1154.30 C342.70,1155.38 343.62,1157.30 344.50,1159.50 C345.38,1161.70 346.28,1164.58 347.20,1167.50 C348.12,1170.42 347.87,1169.92 350.00,1177.00 C352.13,1184.08 356.67,1200.75 360.00,1210.00 C363.33,1219.25 366.67,1226.25 370.00,1232.50 C373.33,1238.75 376.67,1243.54 380.00,1247.50 C383.33,1251.46 386.67,1253.83 390.00,1256.25 C393.33,1258.67 395.83,1259.92 400.00,1262.00 C404.17,1264.08 410.42,1266.88 415.00,1268.75 C419.58,1270.62 423.33,1272.29 427.50,1273.25 C431.67,1274.21 434.58,1274.42 440.00,1274.50 C445.42,1274.58 452.50,1273.75 460.00,1273.75 C467.50,1273.75 478.33,1273.79 485.00,1274.50 C491.67,1275.21 494.58,1277.08 500.00,1278.00 C505.42,1278.92 512.50,1279.96 517.50,1280.00 C522.50,1280.04 522.92,1278.45 530.00,1278.25 C537.08,1278.05 550.00,1278.79 560.00,1278.80 C570.00,1278.81 579.54,1278.35 590.00,1278.30 C600.46,1278.25 617.29,1278.47 622.75,1278.50" fill="none" stroke="#008B8B" stroke-width="2.6" stroke-linecap="butt" stroke-linejoin="round"/>
<path d="M88.00,1281.25 C89.50,1281.54 94.17,1282.58 97.00,1283.00 C99.83,1283.42 101.67,1283.88 105.00,1283.75 C108.33,1283.62 112.83,1282.66 117.00,1282.20 C121.17,1281.74 123.67,1280.95 130.00,1281.00 C136.33,1281.05 146.67,1282.12 155.00,1282.50 C163.33,1282.88 173.83,1282.83 180.00,1283.25 C186.17,1283.67 187.83,1284.29 192.00,1285.00 C196.17,1285.71 198.67,1285.42 205.00,1287.50 C211.33,1289.58 222.50,1293.33 230.00,1297.50 C237.50,1301.67 244.17,1306.25 250.00,1312.50 C255.83,1318.75 260.42,1326.25 265.00,1335.00 C269.58,1343.75 273.75,1354.17 277.50,1365.00 C281.25,1375.83 284.92,1391.17 287.50,1400.00 C290.08,1408.83 291.50,1413.50 293.00,1418.00 C294.50,1422.50 295.54,1425.08 296.50,1427.00 C297.46,1428.92 298.00,1429.33 298.75,1429.50 C299.50,1429.67 300.17,1429.58 301.00,1428.00 C301.83,1426.42 302.25,1428.83 303.75,1420.00 C305.25,1411.17 308.12,1390.83 310.00,1375.00 C311.88,1359.17 313.33,1341.67 315.00,1325.00 C316.67,1308.33 318.12,1295.83 320.00,1275.00 C321.88,1254.17 324.17,1220.83 326.25,1200.00 C328.33,1179.17 330.88,1161.00 332.50,1150.00 C334.12,1139.00 335.00,1137.43 336.00,1134.00 C337.00,1130.57 337.75,1130.40 338.50,1129.40 C339.25,1128.40 339.83,1128.00 340.50,1128.00 C341.17,1128.00 341.75,1128.15 342.50,1129.40 C343.25,1130.65 344.17,1133.15 345.00,1135.50 C345.83,1137.85 346.67,1140.67 347.50,1143.50 C348.33,1146.33 347.92,1143.92 350.00,1152.50 C352.08,1161.08 356.67,1183.33 360.00,1195.00 C363.33,1206.67 366.67,1215.00 370.00,1222.50 C373.33,1230.00 376.67,1235.00 380.00,1240.00 C383.33,1245.00 386.67,1249.17 390.00,1252.50 C393.33,1255.83 395.83,1257.83 400.00,1260.00 C404.17,1262.17 410.42,1263.96 415.00,1265.50 C419.58,1267.04 423.33,1267.88 427.50,1269.25 C431.67,1270.62 434.58,1273.00 440.00,1273.75 C445.42,1274.50 453.75,1273.46 460.00,1273.75 C466.25,1274.04 471.67,1274.54 477.50,1275.50 C483.33,1276.46 488.75,1279.04 495.00,1279.50 C501.25,1279.96 504.17,1278.43 515.00,1278.25 C525.83,1278.07 547.50,1278.33 560.00,1278.40 C572.50,1278.48 579.54,1278.73 590.00,1278.70 C600.46,1278.67 617.29,1278.33 622.75,1278.25" fill="none" stroke="#FF870F" stroke-width="2.6" stroke-linecap="butt" stroke-linejoin="round"/>
</g>
<line x1="185" y1="1129.5" x2="340.5" y2="1129.5" stroke="#FF870F" stroke-width="5" stroke-linecap="butt"/>
<line x1="195.3" y1="1239.4" x2="340.6" y2="1239.4" stroke="#FF870F" stroke-width="5.1" stroke-linecap="butt"/>
<line x1="198" y1="1148.3" x2="198" y2="1159.75" stroke="#FF870F" stroke-width="5.4" stroke-linecap="butt"/>
<line x1="198" y1="1165.6" x2="198" y2="1178.75" stroke="#FF870F" stroke-width="5.4" stroke-linecap="butt"/>
<line x1="198" y1="1183.75" x2="198" y2="1199.4" stroke="#FF870F" stroke-width="5.4" stroke-linecap="butt"/>
<line x1="198" y1="1205" x2="198" y2="1219.4" stroke="#FF870F" stroke-width="5.4" stroke-linecap="butt"/>
<line x1="198" y1="1225" x2="198" y2="1241" stroke="#FF870F" stroke-width="5.4" stroke-linecap="butt"/>
<polygon points="198,1131 188,1148.5 208,1148.5" fill="#FF870F"/>
<line x1="215" y1="1154.5" x2="340" y2="1154.5" stroke="#008B8B" stroke-width="5" stroke-linecap="butt"/>
<line x1="230" y1="1243.6" x2="340.6" y2="1243.6" stroke="#008B8B" stroke-width="5.8" stroke-linecap="butt"/>
<line x1="232.5" y1="1173.5" x2="232.5" y2="1183.75" stroke="#008B8B" stroke-width="5.1" stroke-linecap="butt"/>
<line x1="232.5" y1="1189.4" x2="232.5" y2="1206.25" stroke="#008B8B" stroke-width="5.1" stroke-linecap="butt"/>
<line x1="232.5" y1="1213.1" x2="232.5" y2="1223.75" stroke="#008B8B" stroke-width="5.1" stroke-linecap="butt"/>
<line x1="232.5" y1="1228.75" x2="232.5" y2="1246" stroke="#008B8B" stroke-width="5.1" stroke-linecap="butt"/>
<polygon points="232.5,1156 222,1174 243,1174" fill="#008B8B"/>
<text x="88.70" y="1164.50" font-family='"Liberation Sans", Arial, Helvetica, sans-serif' font-size="26.3" fill="#FF870F" text-anchor="start" font-weight="bold" xml:space="preserve" style="white-space:pre"><tspan>2.6-fold</tspan></text>
<text x="246.20" y="1204.50" font-family='"Liberation Sans", Arial, Helvetica, sans-serif' font-size="26.3" fill="#008B8B" text-anchor="start" font-weight="bold" xml:space="preserve" style="white-space:pre"><tspan>2.4-fold</tspan></text>
<rect x="88" y="1084.3" width="534.75" height="422.70000000000005" fill="none" stroke="#000" stroke-width="1.9"/>
<line x1="87.50" y1="1507" x2="87.50" y2="1514.6" stroke="#000" stroke-width="1.9" stroke-linecap="butt"/>
<text x="89.00" y="1539.50" font-family='"Liberation Sans", Arial, Helvetica, sans-serif' font-size="25" fill="#000" text-anchor="middle" xml:space="preserve" style="white-space:pre"><tspan>1.99</tspan></text>
<line x1="265.80" y1="1507" x2="265.80" y2="1514.6" stroke="#000" stroke-width="1.9" stroke-linecap="butt"/>
<text x="266.00" y="1539.50" font-family='"Liberation Sans", Arial, Helvetica, sans-serif' font-size="25" fill="#000" text-anchor="middle" xml:space="preserve" style="white-space:pre"><tspan>2.00</tspan></text>
<line x1="444.10" y1="1507" x2="444.10" y2="1514.6" stroke="#000" stroke-width="1.9" stroke-linecap="butt"/>
<text x="442.30" y="1539.50" font-family='"Liberation Sans", Arial, Helvetica, sans-serif' font-size="25" fill="#000" text-anchor="middle" xml:space="preserve" style="white-space:pre"><tspan>2.01</tspan></text>
<line x1="622.40" y1="1507" x2="622.40" y2="1514.6" stroke="#000" stroke-width="1.9" stroke-linecap="butt"/>
<text x="621.10" y="1539.50" font-family='"Liberation Sans", Arial, Helvetica, sans-serif' font-size="25" fill="#000" text-anchor="middle" xml:space="preserve" style="white-space:pre"><tspan>2.02</tspan></text>
<text x="355.00" y="1572.50" font-family='"Liberation Sans", Arial, Helvetica, sans-serif' font-size="29" fill="#000" text-anchor="middle" xml:space="preserve" style="white-space:pre"><tspan font-style="italic">g</tspan><tspan> value</tspan></text>
<text x="0.00" y="0.00" font-family='"Liberation Sans", Arial, Helvetica, sans-serif' font-size="29.4" fill="#000" text-anchor="middle" xml:space="preserve" style="white-space:pre" transform="translate(70.6,1294.8) rotate(-90)"><tspan>Intensity (a.u.)</tspan></text>
<line x1="370.5" y1="1125.75" x2="430.5" y2="1125.75" stroke="#000" stroke-width="3" stroke-linecap="butt"/>
<line x1="373.75" y1="1186.75" x2="432" y2="1186.75" stroke="#000" stroke-width="3" stroke-linecap="butt" stroke-dasharray="3.3 2.6"/>
<text x="434.50" y="1116.75" font-family='"Liberation Sans", Arial, Helvetica, sans-serif' font-size="23.9" fill="#000" text-anchor="start" xml:space="preserve" style="white-space:pre"><tspan>Pretreatment with</tspan></text>
<text x="467.50" y="1148.00" font-family='"Liberation Sans", Arial, Helvetica, sans-serif' font-size="23.75" fill="#000" text-anchor="start" xml:space="preserve" style="white-space:pre"><tspan>10% C</tspan><tspan dy="6.50" font-size="15.91">3</tspan><tspan dy="-6.50">H</tspan><tspan dy="6.50" font-size="15.91">8</tspan><tspan dy="-6.50">/Ar</tspan></text>
<text x="441.30" y="1193.75" font-family='"Liberation Sans", Arial, Helvetica, sans-serif' font-size="23.75" fill="#000" text-anchor="start" xml:space="preserve" style="white-space:pre"><tspan>Primary samples</tspan></text>
<line x1="450.75" y1="1343.25" x2="493.25" y2="1343.25" stroke="#008B8B" stroke-width="2.2" stroke-linecap="butt"/>
<path d="M451.75,1380.00 C457.79,1380.00 481.96,1380.00 488.00,1380.00" fill="none" stroke="#008B8B" stroke-width="3.2" stroke-linecap="round" stroke-linejoin="round" stroke-dasharray="0.01 7.14"/>
<line x1="450.75" y1="1416.75" x2="493.25" y2="1416.75" stroke="#FF870F" stroke-width="2.2" stroke-linecap="butt"/>
<path d="M451.75,1453.25 C457.79,1453.25 481.96,1453.25 488.00,1453.25" fill="none" stroke="#FF870F" stroke-width="3.2" stroke-linecap="round" stroke-linejoin="round" stroke-dasharray="0.01 7.14"/>
<text x="492.00" y="1350.00" font-family='"Liberation Sans", Arial, Helvetica, sans-serif' font-size="26" fill="#000" text-anchor="start" xml:space="preserve" style="white-space:pre"><tspan>Ni</tspan><tspan dy="6.50" font-size="17.42">1</tspan><tspan dy="-6.50">-TiO</tspan><tspan dy="6.50" font-size="17.42">2</tspan></text>
<text x="492.00" y="1386.75" font-family='"Liberation Sans", Arial, Helvetica, sans-serif' font-size="26" fill="#000" text-anchor="start" xml:space="preserve" style="white-space:pre"><tspan>Ni</tspan><tspan dy="6.50" font-size="17.42">1</tspan><tspan dy="-6.50">-TiO</tspan><tspan dy="6.50" font-size="17.42">2</tspan></text>
<text x="492.00" y="1423.75" font-family='"Liberation Sans", Arial, Helvetica, sans-serif' font-size="26" fill="#000" text-anchor="start" xml:space="preserve" style="white-space:pre"><tspan>Fe</tspan><tspan dy="6.50" font-size="17.42">1</tspan><tspan dy="-6.50">-TiO</tspan><tspan dy="6.50" font-size="17.42">2</tspan></text>
<text x="492.00" y="1460.75" font-family='"Liberation Sans", Arial, Helvetica, sans-serif' font-size="26" fill="#000" text-anchor="start" xml:space="preserve" style="white-space:pre"><tspan>Fe</tspan><tspan dy="6.50" font-size="17.42">1</tspan><tspan dy="-6.50">-TiO</tspan><tspan dy="6.50" font-size="17.42">2</tspan></text>
</g>
<g id="panel-e">
<text x="736.00" y="1119.00" font-family='"Liberation Sans", Arial, Helvetica, sans-serif' font-size="81" fill="#000" text-anchor="start" xml:space="preserve" style="white-space:pre"><tspan>e</tspan></text>
<clipPath id="clipe"><rect x="802" y="1089.5" width="534.75" height="421.5"/></clipPath>
<g clip-path="url(#clipe)">
<path d="M802.00,1280.30 C806.67,1280.38 820.33,1280.92 830.00,1280.80 C839.67,1280.68 850.83,1279.73 860.00,1279.60 C869.17,1279.47 877.50,1279.83 885.00,1280.00 C892.50,1280.17 900.00,1280.27 905.00,1280.60 C910.00,1280.93 909.58,1281.27 915.00,1282.00 C920.42,1282.73 930.42,1284.08 937.50,1285.00 C944.58,1285.92 951.25,1286.25 957.50,1287.50 C963.75,1288.75 969.58,1290.00 975.00,1292.50 C980.42,1295.00 985.83,1299.38 990.00,1302.50 C994.17,1305.62 997.33,1309.17 1000.00,1311.25 C1002.67,1313.33 1004.12,1314.17 1006.00,1315.00 C1007.88,1315.83 1009.58,1316.28 1011.25,1316.25 C1012.92,1316.22 1014.54,1315.63 1016.00,1314.80 C1017.46,1313.97 1018.29,1314.13 1020.00,1311.25 C1021.71,1308.37 1024.17,1303.12 1026.25,1297.50 C1028.33,1291.88 1030.42,1283.75 1032.50,1277.50 C1034.58,1271.25 1036.67,1264.38 1038.75,1260.00 C1040.83,1255.62 1043.12,1253.32 1045.00,1251.25 C1046.88,1249.18 1048.33,1248.43 1050.00,1247.60 C1051.67,1246.77 1053.33,1246.22 1055.00,1246.25 C1056.67,1246.28 1058.33,1246.97 1060.00,1247.80 C1061.67,1248.63 1062.50,1249.22 1065.00,1251.25 C1067.50,1253.28 1071.67,1257.50 1075.00,1260.00 C1078.33,1262.50 1081.25,1264.25 1085.00,1266.25 C1088.75,1268.25 1092.92,1270.54 1097.50,1272.00 C1102.08,1273.46 1106.67,1274.00 1112.50,1275.00 C1118.33,1276.00 1126.25,1277.07 1132.50,1278.00 C1138.75,1278.93 1145.42,1280.06 1150.00,1280.60 C1154.58,1281.14 1155.83,1281.56 1160.00,1281.25 C1164.17,1280.94 1170.00,1279.36 1175.00,1278.75 C1180.00,1278.14 1185.00,1277.81 1190.00,1277.60 C1195.00,1277.39 1199.17,1277.10 1205.00,1277.50 C1210.83,1277.90 1219.17,1279.42 1225.00,1280.00 C1230.83,1280.58 1233.33,1281.08 1240.00,1281.00 C1246.67,1280.92 1256.67,1279.50 1265.00,1279.50 C1273.33,1279.50 1282.50,1280.98 1290.00,1281.00 C1297.50,1281.02 1302.21,1279.72 1310.00,1279.60 C1317.79,1279.48 1332.29,1280.18 1336.75,1280.30" fill="none" stroke="#2B6FE3" stroke-width="3.5" stroke-linecap="round" stroke-linejoin="round" stroke-dasharray="0.01 7.0"/>
<path d="M802.00,1280.50 C806.67,1280.58 820.33,1281.08 830.00,1281.00 C839.67,1280.92 848.33,1280.20 860.00,1280.00 C871.67,1279.80 887.50,1279.83 900.00,1279.80 C912.50,1279.77 926.67,1279.77 935.00,1279.80 C943.33,1279.83 945.83,1279.70 950.00,1280.00 C954.17,1280.30 956.67,1280.77 960.00,1281.60 C963.33,1282.43 966.25,1282.77 970.00,1285.00 C973.75,1287.23 978.75,1290.83 982.50,1295.00 C986.25,1299.17 989.17,1304.58 992.50,1310.00 C995.83,1315.42 999.92,1323.25 1002.50,1327.50 C1005.08,1331.75 1006.33,1333.62 1008.00,1335.50 C1009.67,1337.38 1011.08,1338.58 1012.50,1338.75 C1013.92,1338.92 1015.25,1337.96 1016.50,1336.50 C1017.75,1335.04 1018.38,1335.25 1020.00,1330.00 C1021.62,1324.75 1024.17,1314.17 1026.25,1305.00 C1028.33,1295.83 1030.42,1285.00 1032.50,1275.00 C1034.58,1265.00 1036.67,1253.54 1038.75,1245.00 C1040.83,1236.46 1043.21,1228.58 1045.00,1223.75 C1046.79,1218.92 1048.04,1217.67 1049.50,1216.00 C1050.96,1214.33 1052.33,1213.75 1053.75,1213.75 C1055.17,1213.75 1056.54,1214.54 1058.00,1216.00 C1059.46,1217.46 1060.08,1218.08 1062.50,1222.50 C1064.92,1226.92 1069.17,1236.25 1072.50,1242.50 C1075.83,1248.75 1078.75,1255.33 1082.50,1260.00 C1086.25,1264.67 1090.00,1267.67 1095.00,1270.50 C1100.00,1273.33 1105.42,1275.33 1112.50,1277.00 C1119.58,1278.67 1129.17,1279.79 1137.50,1280.50 C1145.83,1281.21 1152.08,1281.33 1162.50,1281.25 C1172.92,1281.17 1187.08,1280.12 1200.00,1280.00 C1212.92,1279.88 1225.00,1280.37 1240.00,1280.50 C1255.00,1280.63 1273.88,1280.83 1290.00,1280.80 C1306.12,1280.77 1328.96,1280.38 1336.75,1280.30" fill="none" stroke="#2B6FE3" stroke-width="2.8" stroke-linecap="butt" stroke-linejoin="round"/>
</g>
<line x1="985" y1="1212.5" x2="1055" y2="1212.5" stroke="#2B6FE3" stroke-width="5" stroke-linecap="butt"/>
<line x1="1000" y1="1246.25" x2="1054" y2="1246.25" stroke="#2B6FE3" stroke-width="5" stroke-linecap="butt"/>
<line x1="1003" y1="1248.75" x2="1003" y2="1231" stroke="#2B6FE3" stroke-width="5.8" stroke-linecap="butt"/>
<polygon points="1003,1214.5 993,1232.3 1013,1232.3" fill="#2B6FE3"/>
<text x="883.50" y="1244.50" font-family='"Liberation Sans", Arial, Helvetica, sans-serif' font-size="26.2" fill="#2B6FE3" text-anchor="start" font-weight="bold" xml:space="preserve" style="white-space:pre"><tspan>1.2-fold</tspan></text>
<rect x="802" y="1089.5" width="534.75" height="421.5" fill="none" stroke="#000" stroke-width="2"/>
<line x1="801.50" y1="1511" x2="801.50" y2="1517.6" stroke="#000" stroke-width="2" stroke-linecap="butt"/>
<text x="802.10" y="1542.50" font-family='"Liberation Sans", Arial, Helvetica, sans-serif' font-size="25" fill="#000" text-anchor="middle" xml:space="preserve" style="white-space:pre"><tspan>1.99</tspan></text>
<line x1="979.80" y1="1511" x2="979.80" y2="1517.6" stroke="#000" stroke-width="2" stroke-linecap="butt"/>
<text x="979.40" y="1542.50" font-family='"Liberation Sans", Arial, Helvetica, sans-serif' font-size="25" fill="#000" text-anchor="middle" xml:space="preserve" style="white-space:pre"><tspan>2.00</tspan></text>
<line x1="1158.10" y1="1511" x2="1158.10" y2="1517.6" stroke="#000" stroke-width="2" stroke-linecap="butt"/>
<text x="1156.40" y="1542.50" font-family='"Liberation Sans", Arial, Helvetica, sans-serif' font-size="25" fill="#000" text-anchor="middle" xml:space="preserve" style="white-space:pre"><tspan>2.01</tspan></text>
<line x1="1336.40" y1="1511" x2="1336.40" y2="1517.6" stroke="#000" stroke-width="2" stroke-linecap="butt"/>
<text x="1334.70" y="1542.50" font-family='"Liberation Sans", Arial, Helvetica, sans-serif' font-size="25" fill="#000" text-anchor="middle" xml:space="preserve" style="white-space:pre"><tspan>2.02</tspan></text>
<text x="1069.00" y="1576.25" font-family='"Liberation Sans", Arial, Helvetica, sans-serif' font-size="29" fill="#000" text-anchor="middle" xml:space="preserve" style="white-space:pre"><tspan font-style="italic">g</tspan><tspan> value</tspan></text>
<text x="0.00" y="0.00" font-family='"Liberation Sans", Arial, Helvetica, sans-serif' font-size="29.4" fill="#000" text-anchor="middle" xml:space="preserve" style="white-space:pre" transform="translate(785,1299) rotate(-90)"><tspan>Intensity (a.u.)</tspan></text>
<line x1="1085" y1="1112.5" x2="1144.25" y2="1112.5" stroke="#000" stroke-width="3" stroke-linecap="butt"/>
<line x1="1088" y1="1190" x2="1146.25" y2="1190" stroke="#000" stroke-width="3" stroke-linecap="butt" stroke-dasharray="3.3 2.6"/>
<text x="1148.70" y="1120.75" font-family='"Liberation Sans", Arial, Helvetica, sans-serif' font-size="23.9" fill="#000" text-anchor="start" xml:space="preserve" style="white-space:pre"><tspan>Pretreatment with</tspan></text>
<text x="1181.20" y="1151.75" font-family='"Liberation Sans", Arial, Helvetica, sans-serif' font-size="23.75" fill="#000" text-anchor="start" xml:space="preserve" style="white-space:pre"><tspan>10% C</tspan><tspan dy="6.50" font-size="15.91">3</tspan><tspan dy="-6.50">H</tspan><tspan dy="6.50" font-size="15.91">8</tspan><tspan dy="-6.50">/Ar</tspan></text>
<text x="1155.00" y="1198.00" font-family='"Liberation Sans", Arial, Helvetica, sans-serif' font-size="23.75" fill="#000" text-anchor="start" xml:space="preserve" style="white-space:pre"><tspan>Primary samples</tspan></text>
<line x1="1138.75" y1="1347" x2="1180.75" y2="1347" stroke="#2B6FE3" stroke-width="2.4" stroke-linecap="butt"/>
<path d="M1139.20,1384.25 C1145.27,1384.25 1169.53,1384.25 1175.60,1384.25" fill="none" stroke="#2B6FE3" stroke-width="3.2" stroke-linecap="round" stroke-linejoin="round" stroke-dasharray="0.01 7.14"/>
<text x="1179.50" y="1353.75" font-family='"Liberation Sans", Arial, Helvetica, sans-serif' font-size="26" fill="#000" text-anchor="start" xml:space="preserve" style="white-space:pre"><tspan>Ni</tspan><tspan dy="6.50" font-size="17.42">1</tspan><tspan dy="-6.50">Fe</tspan><tspan dy="6.50" font-size="17.42">1</tspan><tspan dy="-6.50">-TiO</tspan><tspan dy="6.50" font-size="17.42">2</tspan></text>
<text x="1179.50" y="1391.25" font-family='"Liberation Sans", Arial, Helvetica, sans-serif' font-size="26" fill="#000" text-anchor="start" xml:space="preserve" style="white-space:pre"><tspan>Ni</tspan><tspan dy="6.50" font-size="17.42">1</tspan><tspan dy="-6.50">Fe</tspan><tspan dy="6.50" font-size="17.42">1</tspan><tspan dy="-6.50">-TiO</tspan><tspan dy="6.50" font-size="17.42">2</tspan></text>
</g>
</svg>
</body>
</html>
